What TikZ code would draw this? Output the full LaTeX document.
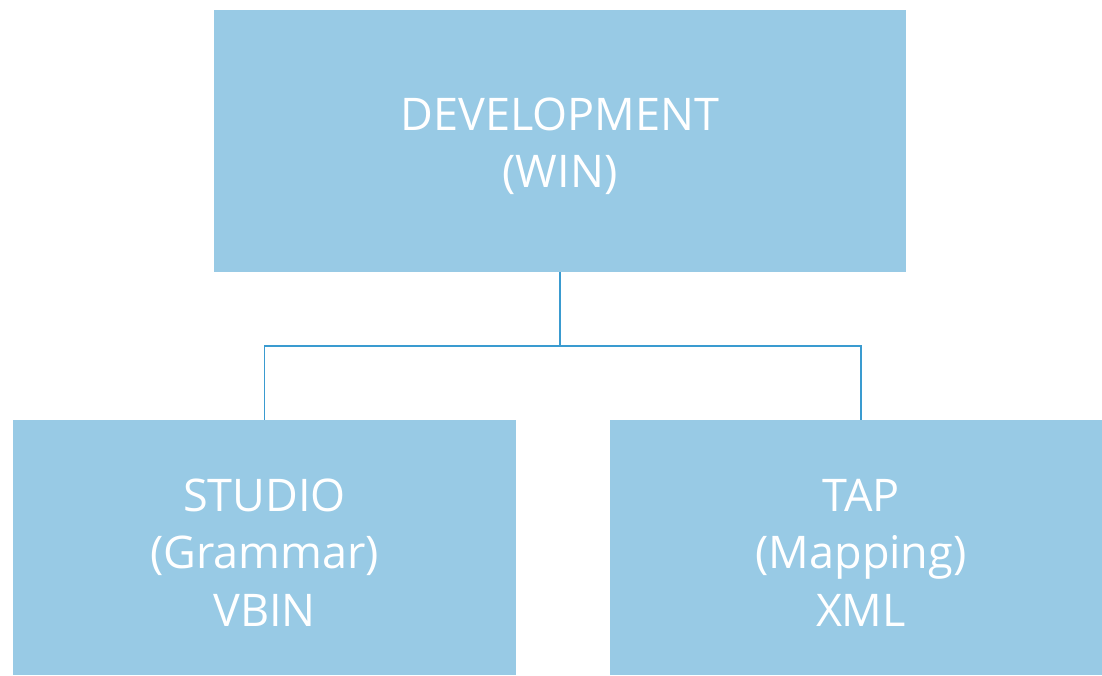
\documentclass[tikz,border=0pt]{standalone}
\usepackage{fontspec}
\setmainfont{Open Sans}
\definecolor{boxblue}{HTML}{98CAE5}
\definecolor{lineblue}{HTML}{3A9BD0}
\begin{document}
\begin{tikzpicture}[x=1pt,y=-1pt,
  box/.style={draw=none,fill=boxblue,inner sep=0pt},
  boxtext/.style={text=white,inner sep=0pt,align=center,
    font=\fontsize{45}{57.5}\selectfont},
  conn/.style={draw=lineblue,line width=1.8pt}]
\useasboundingbox (0,0) rectangle (1102,675);
\node[box,minimum width=692pt,minimum height=262pt,
  label={[boxtext,yshift=-5pt]center:DEVELOPMENT\\(WIN)}] (dev) at (560,141) {};
\node[box,minimum width=503pt,minimum height=255pt,
  label={[boxtext,yshift=-5pt]center:STUDIO\\(Grammar)\\VBIN}] (studio) at (264.5,547.5) {};
\node[box,minimum width=492pt,minimum height=255pt,
  label={[boxtext,xshift=5pt,yshift=-5pt]center:TAP\\(Mapping)\\XML}] (tap) at (856,547.5) {};
\coordinate (mid) at (560,346);
\draw[conn] (dev.south) -- (mid);
\draw[conn] (mid) -| (studio.north);
\draw[conn] (mid) -| ([xshift=5pt]tap.north);
\end{tikzpicture}
\end{document}
